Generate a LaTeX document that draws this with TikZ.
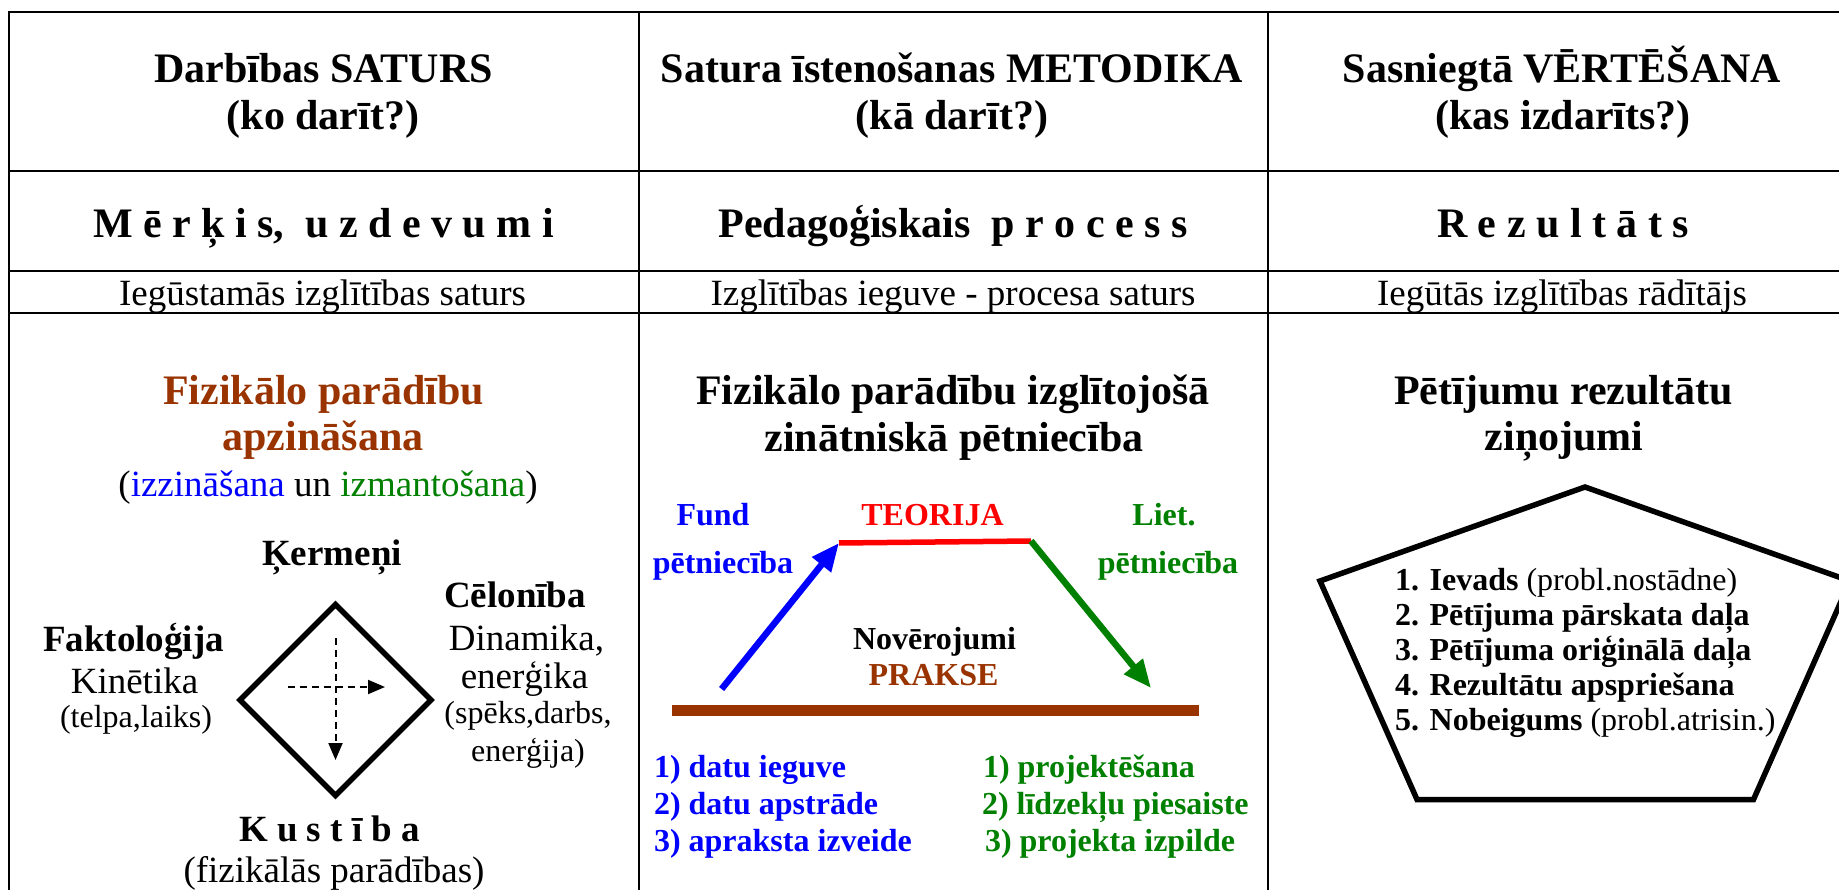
\documentclass[tikz,border=0pt]{standalone}
\usepackage{fontspec}
\setmainfont{Liberation Serif}
\usetikzlibrary{arrows.meta}
\definecolor{brn}{HTML}{993300}
\definecolor{grn}{HTML}{008000}
\definecolor{blu}{HTML}{0000FF}
\definecolor{rd}{HTML}{FF0000}
\newcommand{\fsz}[1]{\fontsize{#1}{#1}\selectfont}
\begin{document}
\begin{tikzpicture}[x=1pt,y=-1pt,
  txt/.style={anchor=base,inner sep=0pt,outer sep=0pt},
  hd/.style={txt,font=\fsz{42}\bfseries},
  rg/.style={txt,font=\fsz{37}},
  bd/.style={txt,font=\fsz{37}\bfseries},
  sm/.style={txt,font=\fsz{32}},
  sb/.style={txt,font=\fsz{32}\bfseries},
  lw/.style={sb,anchor=base west},
  pl/.style={sm,anchor=base west},
  grid/.style={line width=2.5pt,line cap=rect},
  thick shape/.style={line width=5.5pt,line join=miter},
  dasharrow/.style={line width=2pt,dash pattern=on 7pt off 5pt,-{Triangle[length=17pt,width=14pt]}},
  bigarrow/.style={line width=6.5pt,-{Triangle[length=28pt,width=23pt]}}]
\useasboundingbox (0,0) rectangle (1839,890);
\clip (0,0) rectangle (1839,890);
\fill[white] (0,0) rectangle (1839,890);
% table grid
\draw[grid] (9,12) -- (1870,12);
\draw[grid] (9,171) -- (1870,171);
\draw[grid] (9,271) -- (1870,271);
\draw[grid] (9,313) -- (1870,313);
\draw[grid] (9,12) -- (9,900);
\draw[grid] (639,12) -- (639,900);
\draw[grid] (1268,12) -- (1268,900);
% header row 1
\node[hd] (h1a) at (323.5,82.5) {Darbības SATURS};
\node[hd] (h1b) at (323,129.5) {(ko darīt?)};
\node[hd] (h2a) at (952,82.5) {Satura īstenošanas METODIKA};
\node[hd] (h2b) at (952,129.5) {(kā darīt?)};
\node[hd] (h3a) at (1562,82.5) {Sasniegtā VĒRTĒŠANA};
\node[hd] (h3b) at (1563,129.5) {(kas izdarīts?)};
% header row 2
\node[hd] (r1) at (323.5,238) {M ē r ķ i s,\ \ u z d e v u m i};
\node[hd] (r2) at (953,238) {Pedagoģiskais\ \ p r o c e s s};
\node[hd] (r3) at (1563,238) {R e z u l t ā t s};
% header row 3
\node[rg] (s1) at (322.5,306) {Iegūstamās izglītības saturs};
\node[rg] (s2) at (953,306) {Izglītības ieguve - procesa saturs};
\node[rg] (s3) at (1562,306) {Iegūtās izglītības rādītājs};
% column 1
\node[hd,text=brn] (c1a) at (323.5,405) {Fizikālo parādību};
\node[hd,text=brn] (c1b) at (323,450) {apzināšana};
\node[rg] (c1c) at (328,496) {(\textcolor{blu}{izzināšana} un \textcolor{grn}{izmantošana})};
\node[bd] (kerm) at (332,565) {Ķermeņi};
\node[bd] (celo) at (515,607) {Cēlonība};
\node[bd] (fakt) at (133.5,651) {Faktoloģija};
\node[rg] (kine) at (134.5,693) {Kinētika};
\node[sm] (telp) at (136,727) {(telpa,laiks)};
\node[rg] (dina) at (526.5,650) {Dinamika,};
\node[rg] (ener) at (524.5,688) {enerģika};
\node[sm] (spek) at (528,723) {(spēks,darbs,};
\node[sm] (enja) at (528,761) {enerģija)};
\node[bd] (kust) at (329.5,841) {K u s t ī b a};
\node[rg] (fizp) at (334,882) {(fizikālās parādības)};
\coordinate (dt) at (335.5,604.5);
\coordinate (dr) at (431,700);
\coordinate (db) at (335.5,795.5);
\coordinate (dl) at (240,700);
\draw[thick shape] (dt) -- (dr) -- (db) -- (dl) -- cycle;
\coordinate (vs) at (335.5,638);
\coordinate (ve) at (335.5,760);
\coordinate (hs) at (288,687);
\coordinate (he) at (385,687);
\draw[dasharrow] (vs) -- (ve);
\draw[dasharrow] (hs) -- (he);
% column 2
\node[hd] (c2a) at (953,405) {Fizikālo parādību izglītojošā};
\node[hd] (c2b) at (954,451) {zinātniskā pētniecība};
\node[sb,text=blu] (fund) at (713,525) {Fund};
\node[sb,text=blu] (fpet) at (723,573) {pētniecība};
\node[sb,text=rd] (teor) at (932.5,525) {TEORIJA};
\node[sb,text=grn] (liet) at (1164,525) {Liet.};
\node[sb,text=grn] (lpet) at (1168,573) {pētniecība};
\node[sb] (nove) at (934.5,649) {Novērojumi};
\node[sb,text=brn] (prak) at (933.5,685) {PRAKSE};
\coordinate (bs) at (721.6,689);
\coordinate (tl) at (839,543);
\coordinate (tr) at (1031,541);
\coordinate (ge) at (1151,688);
\draw[line width=5.5pt,rd] (tl) -- (tr);
\draw[bigarrow,blu] (bs) -- (tl);
\draw[bigarrow,grn] (tr) -- (ge);
\coordinate (pl) at (672,710);
\coordinate (pr) at (1199,710);
\draw[line width=11pt,brn] (pl) -- (pr);
\node[lw,text=blu] (b1) at (654,777) {1) datu ieguve};
\node[lw,text=blu] (b2) at (654,814) {2) datu apstrāde};
\node[lw,text=blu] (b3) at (654,851) {3) apraksta izveide};
\node[lw,text=grn] (g1) at (983,777) {1) projektēšana};
\node[lw,text=grn] (g2) at (982,814) {2) līdzekļu piesaiste};
\node[lw,text=grn] (g3) at (985,851) {3) projekta izpilde};
% column 3
\node[hd] (c3a) at (1563.5,405) {Pētījumu rezultātu};
\node[hd] (c3b) at (1564,450) {ziņojumi};
\coordinate (pt) at (1585,487);
\coordinate (pr2) at (1850,581);
\coordinate (pbr) at (1753.5,799.5);
\coordinate (pbl) at (1417,799.5);
\coordinate (pl2) at (1320,581);
\draw[thick shape] (pt) -- (pr2) -- (pbr) -- (pbl) -- (pl2) -- cycle;
\node[pl] (p1) at (1395,590) {\textbf{1. Ievads} (probl.nostādne)};
\node[pl] (p2) at (1395,625) {\textbf{2. Pētījuma pārskata daļa}};
\node[pl] (p3) at (1395,660) {\textbf{3. Pētījuma oriģinālā daļa}};
\node[pl] (p4) at (1395,695) {\textbf{4. Rezultātu apspriešana}};
\node[pl] (p5) at (1395,730) {\textbf{5. Nobeigums} (probl.atrisin.)};
\end{tikzpicture}
\end{document}
